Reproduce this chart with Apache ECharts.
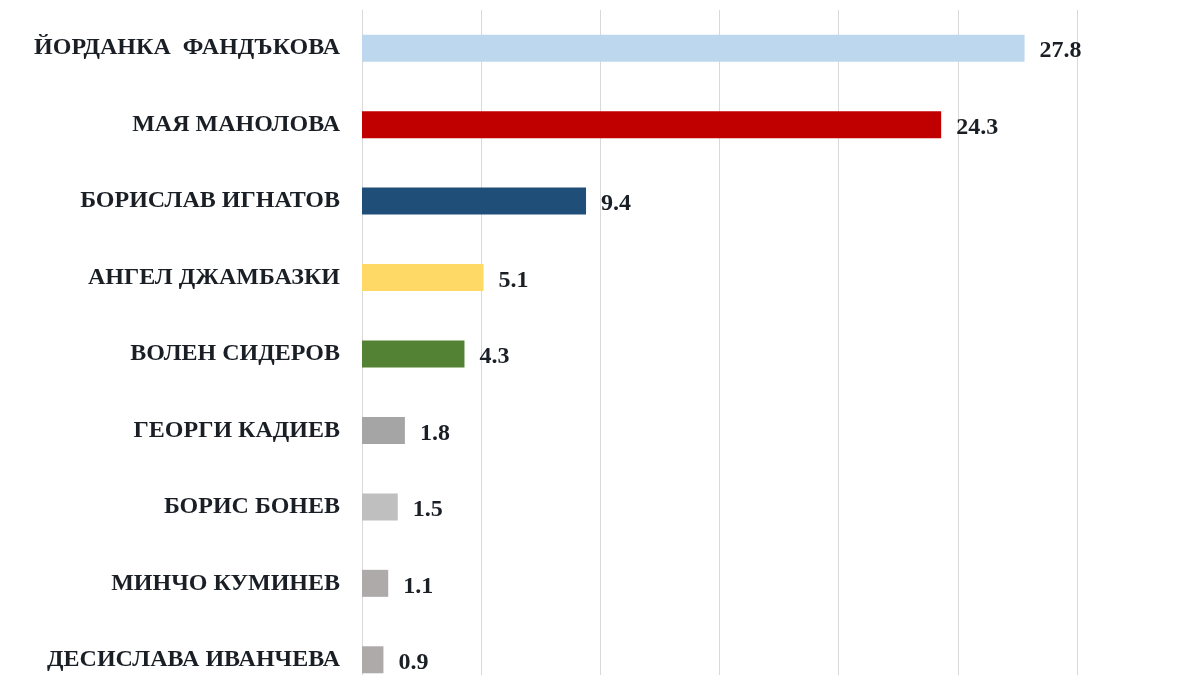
<!DOCTYPE html>
<html>
<head>
<meta charset="utf-8">
<script src="https://cdn.jsdelivr.net/npm/echarts@6/dist/echarts.min.js"></script>
<style>html,body{margin:0;padding:0;background:#fff;overflow:hidden;width:1200px;height:675px;}#c{width:1200px;height:700px;}</style>
</head>
<body>
<div id="c"></div>
<script>
const categories = ['ЙОРДАНКА  ФАНДЪКОВА','МАЯ МАНОЛОВА','БОРИСЛАВ ИГНАТОВ','АНГЕЛ ДЖАМБАЗКИ','ВОЛЕН СИДЕРОВ','ГЕОРГИ КАДИЕВ','БОРИС БОНЕВ','МИНЧО КУМИНЕВ','ДЕСИСЛАВА ИВАНЧЕВА'];
const values = [27.8, 24.3, 9.4, 5.1, 4.3, 1.8, 1.5, 1.1, 0.9];
const barColors = ['#BDD7EE','#C00000','#1F4E79','#FFD966','#548235','#A5A5A5','#BFBFBF','#AEAAAA','#AEAAAA'];

const chart = echarts.init(document.getElementById('c'));
chart.setOption({
  animation: false,
  backgroundColor: '#ffffff',
  grid: { left: 362, right: 123, top: 10, height: 688, containLabel: false },
  xAxis: {
    type: 'value', min: 0, max: 30, interval: 5,
    axisLabel: { show: false }, axisLine: { show: false }, axisTick: { show: false },
    splitLine: { show: true, lineStyle: { color: '#d9d9d9', width: 1 } }
  },
  yAxis: {
    type: 'category', inverse: true, data: categories,
    axisLine: { show: true, lineStyle: { color: '#d9d9d9', width: 1 } },
    axisTick: { show: false },
    axisLabel: { margin: 22, padding: [3, 0, 0, 0], fontFamily: 'Liberation Serif', fontWeight: 'bold', fontSize: 24, color: '#1a1f26' }
  },
  series: [{
    type: 'bar', barWidth: 27,
    data: values.map((v, i) => ({ value: v, itemStyle: { color: barColors[i] } })),
    label: { show: true, position: 'right', distance: 15, offset: [0, 3], fontFamily: 'Liberation Serif', fontWeight: 'bold', fontSize: 24, color: '#1a1f26' }
  }]
});
</script>
</body>
</html>
